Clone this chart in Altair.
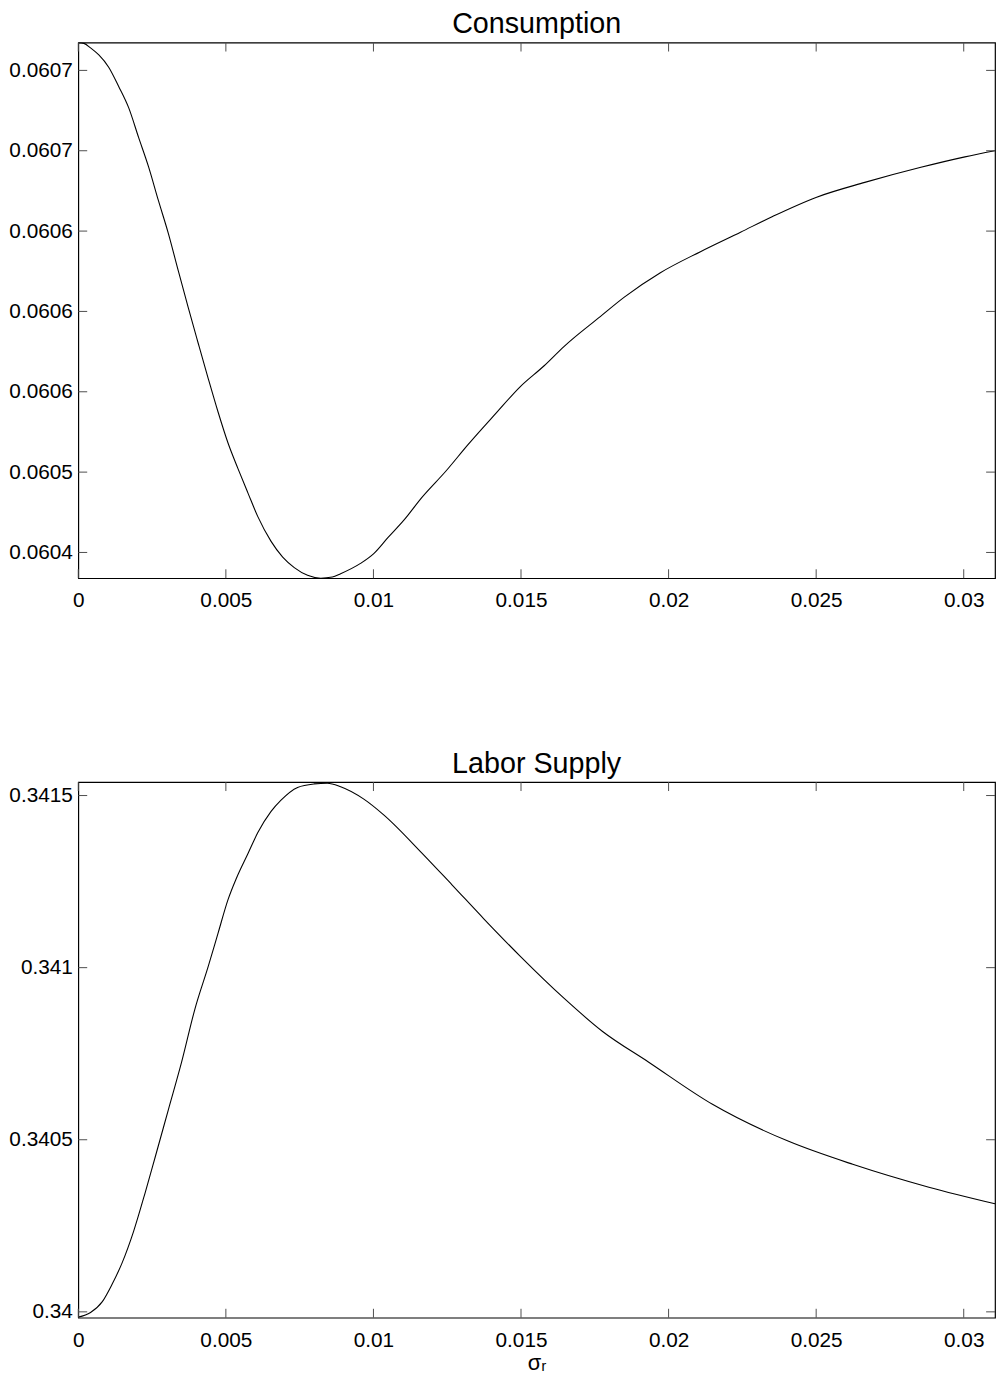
import altair as alt
import pandas as pd

# ---- data ----
cons_x = [0.0, 0.000191, 0.000415, 0.000696, 0.00103, 0.001369, 0.001706, 0.002043, 0.002379,
          0.002716, 0.003053, 0.003389, 0.003726, 0.004063, 0.0044, 0.004736, 0.005073,
          0.00541, 0.005746, 0.006083, 0.006532, 0.006925, 0.007318, 0.007767, 0.008215,
          0.008608, 0.008889, 0.009562, 0.010011, 0.010489, 0.011032, 0.011643, 0.012458,
          0.013204, 0.014155, 0.014969, 0.015784, 0.016463, 0.017685, 0.0185, 0.019722,
          0.02108, 0.022437, 0.023524, 0.025017, 0.026647, 0.028548, 0.030041, 0.031059]
cons_y = [0.0607673, 0.0607668, 0.0607640, 0.0607596, 0.0607520, 0.0607400, 0.0607268,
          0.0607083, 0.0606901, 0.0606689, 0.0606484, 0.0606252, 0.0606023, 0.0605802,
          0.0605584, 0.0605374, 0.0605181, 0.0605022, 0.0604871, 0.0604723, 0.0604569,
          0.0604471, 0.0604406, 0.0604358, 0.0604340, 0.0604347, 0.0604368, 0.0604432,
          0.0604493, 0.0604592, 0.0604701, 0.0604843, 0.0605007, 0.0605171, 0.0605367,
          0.0605531, 0.0605662, 0.0605783, 0.0605968, 0.0606089, 0.0606241, 0.0606372,
          0.0606493, 0.0606591, 0.0606711, 0.0606803, 0.0606897, 0.0606962, 0.0607000]

lab_x = [0.0, 0.000415, 0.000808, 0.001145, 0.001481, 0.001874, 0.002267, 0.002604, 0.003053,
         0.003502, 0.003951, 0.0044, 0.004736, 0.005073, 0.005354, 0.005746, 0.006083,
         0.006532, 0.006869, 0.00743, 0.007991, 0.00844, 0.008889, 0.009675, 0.010348,
         0.011643, 0.012661, 0.013747, 0.014969, 0.016463, 0.017753, 0.019315, 0.021487,
         0.024067, 0.026239, 0.028819, 0.031059]
lab_y = [0.3399847, 0.3399981, 0.3400288, 0.3400801, 0.3401416, 0.3402339, 0.3403466,
         0.3404492, 0.3405876, 0.3407260, 0.3408797, 0.3410028, 0.3411002, 0.3411976,
         0.3412591, 0.3413308, 0.3413924, 0.3414539, 0.3414867, 0.3415236, 0.3415338,
         0.3415359, 0.3415256, 0.3414897, 0.3414440, 0.3413329, 0.3412406, 0.3411412,
         0.3410335, 0.3409105, 0.3408152, 0.3407260, 0.3406030, 0.3404953, 0.3404286,
         0.3403620, 0.3403138]

x_ticks = [0.0, 0.005, 0.01, 0.015, 0.02, 0.025, 0.03]
x_tick_labels = ["0", "0.005", "0.01", "0.015", "0.02", "0.025", "0.03"]
cons_ticks = [0.06045, 0.0605, 0.06055, 0.0606, 0.06065, 0.0607, 0.06075]
cons_tick_labels = ["0.0604", "0.0605", "0.0606", "0.0606", "0.0606", "0.0607", "0.0607"]
lab_ticks = [0.34, 0.3405, 0.341, 0.3415]
lab_tick_labels = ["0.34", "0.3405", "0.341", "0.3415"]

X_DOMAIN = [0.0, 0.03106]
CONS_DOMAIN = [0.0604340, 0.0607673]
LAB_DOMAIN = [0.3399830, 0.3415390]

W, H = 926, 541
TICK = 9
FONT = "Liberation Sans"


def arr_expr(labels):
    return "[" + ",".join("'%s'" % s for s in labels) + "]"


def panel(xs, ys, yticks, ylabels, ydomain, title, xtitle=None):
    df = pd.DataFrame({"x": xs, "y": ys})
    step = yticks[1] - yticks[0]
    xscale = alt.Scale(domain=X_DOMAIN, nice=False, zero=False)
    yscale = alt.Scale(domain=ydomain, nice=False, zero=False)
    xaxis_kwargs = dict(
        values=x_ticks,
        labelExpr=arr_expr(x_tick_labels) + "[round(datum.value/0.005)]",
        ticks=False, domain=False, grid=False,
        labelFontSize=21, labelPadding=12, labelColor="black",
        labelFont=FONT, labelFlush=False,
    )
    if xtitle:
        xaxis_kwargs.update(title=xtitle, titleFontSize=22, titleFont=FONT,
                            titleFontWeight="normal", titlePadding=2, titleColor="black")
    else:
        xaxis_kwargs.update(title=None)
    xaxis = alt.Axis(**xaxis_kwargs)
    yaxis = alt.Axis(
        values=yticks,
        labelExpr=arr_expr(ylabels) + "[round((datum.value-%r)/%r)]" % (yticks[0], step),
        ticks=False, domain=False, grid=False, title=None,
        labelFontSize=21, labelPadding=6, labelColor="black", labelFont=FONT,
        labelFlush=False,
    )
    X = alt.X("x:Q", scale=xscale, axis=xaxis)
    Y = alt.Y("y:Q", scale=yscale, axis=yaxis)
    line = alt.Chart(df).mark_line(color="black", strokeWidth=1.1, clip=True,
                                   interpolate="monotone").encode(x=X, y=Y)
    xt = pd.DataFrame({"x": x_ticks})
    yt = pd.DataFrame({"y": yticks})
    tick_color = "#4d4d4d"
    xb = alt.Chart(xt).mark_rule(color=tick_color, strokeWidth=1).encode(
        x=X, y=alt.value(H - TICK), y2=alt.value(H))
    xtp = alt.Chart(xt).mark_rule(color=tick_color, strokeWidth=1).encode(
        x=X, y=alt.value(0), y2=alt.value(TICK))
    yl = alt.Chart(yt).mark_rule(color=tick_color, strokeWidth=1).encode(
        y=Y, x=alt.value(0), x2=alt.value(TICK))
    yr = alt.Chart(yt).mark_rule(color=tick_color, strokeWidth=1).encode(
        y=Y, x=alt.value(W - TICK), x2=alt.value(W))
    return alt.layer(line, xb, xtp, yl, yr).properties(
        width=W, height=H,
        title=alt.TitleParams(title, fontSize=29, font=FONT, fontWeight="normal",
                              color="black", offset=3, anchor="middle"),
    )


top = panel(cons_x, cons_y, cons_ticks, cons_tick_labels, CONS_DOMAIN, "Consumption")
bottom = panel(lab_x, lab_y, lab_ticks, lab_tick_labels, LAB_DOMAIN, "Labor Supply",
               xtitle="σᵣ")

chart = alt.vconcat(top, bottom, spacing=138).properties(
    padding={"left": 0, "top": -6, "right": 0, "bottom": 0},
    background="white",
).configure_view(stroke="black", strokeWidth=1.2)

chart.save("out.html", embed_options={"renderer": "svg", "actions": False})
